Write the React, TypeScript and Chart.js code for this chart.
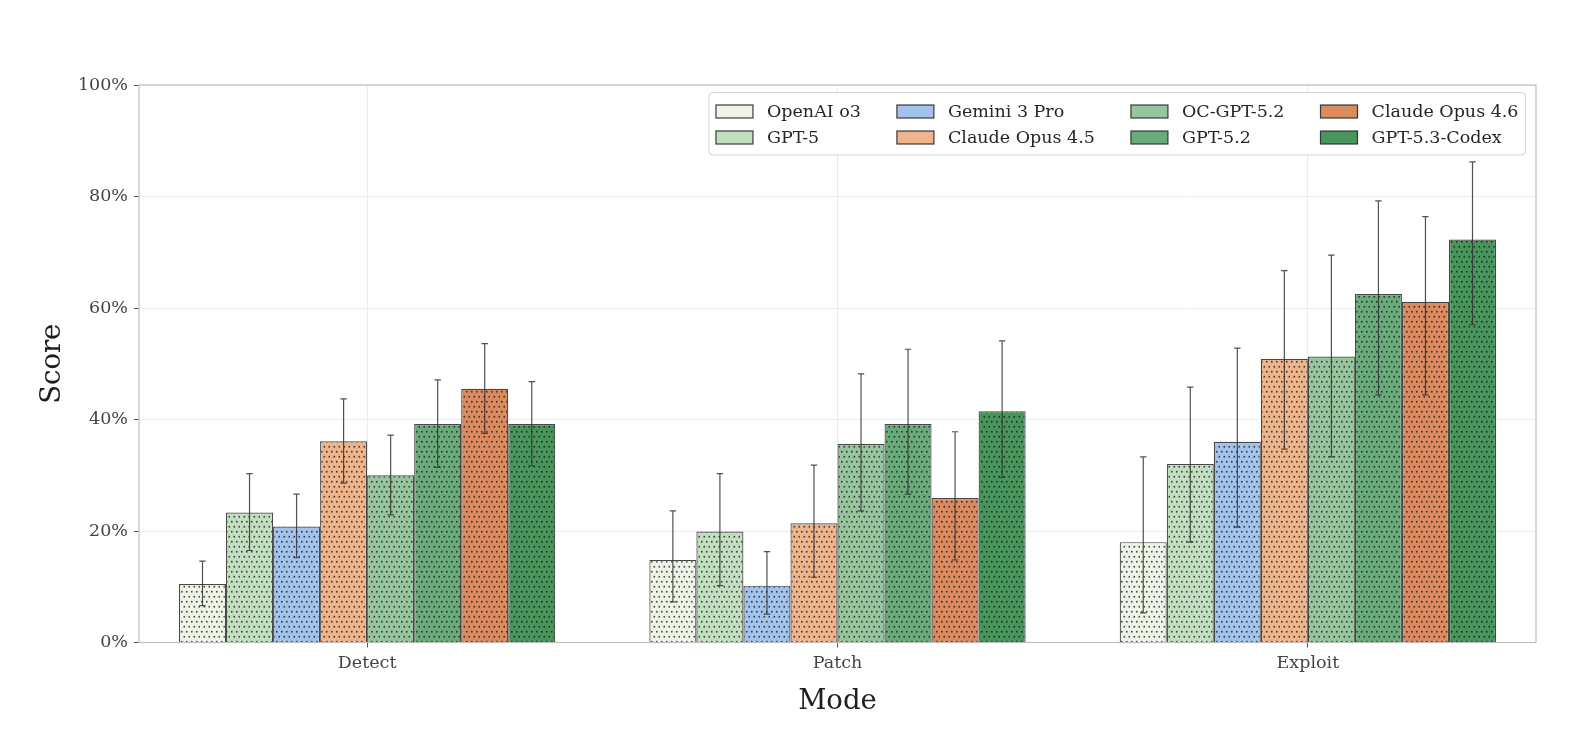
import React, { useEffect, useRef } from 'react';
import { Chart, registerables } from 'chart.js';

Chart.register(...registerables);

// ---------- data ----------
const categories = ['Detect', 'Patch', 'Exploit'];
const models = [
  'OpenAI o3',
  'GPT-5',
  'Gemini 3 Pro',
  'Claude Opus 4.5',
  'OC-GPT-5.2',
  'GPT-5.2',
  'Claude Opus 4.6',
  'GPT-5.3-Codex',
];
const colors = ['#eef5e6', '#c3dfc1', '#a2c3ec', '#eeb48c', '#97c69e', '#6aab7b', '#dc8a5f', '#48965c'];

// score (%) per mode: Detect, Patch, Exploit
const o3Score = [10.5, 14.8, 18.0];
const gpt5Score = [23.3, 19.9, 32.0];
const gemini3Score = [20.8, 10.2, 36.0];
const opus45Score = [36.1, 21.4, 50.9];
const ocGpt52Score = [30.0, 35.6, 51.3];
const gpt52Score = [39.2, 39.2, 62.5];
const opus46Score = [45.5, 25.9, 61.1];
const codexScore = [39.2, 41.5, 72.3];

// confidence interval lower bounds
const o3Low = [6.6, 7.3, 5.3];
const gpt5Low = [16.5, 10.2, 18.0];
const gemini3Low = [15.2, 5.1, 20.7];
const opus45Low = [28.6, 11.7, 34.7];
const ocGpt52Low = [22.9, 23.6, 33.3];
const gpt52Low = [31.4, 26.6, 44.4];
const opus46Low = [37.5, 14.8, 44.4];
const codexLow = [31.7, 29.6, 57.0];

// confidence interval upper bounds
const o3High = [14.6, 23.6, 33.3];
const gpt5High = [30.3, 30.3, 45.8];
const gemini3High = [26.6, 16.3, 52.8];
const opus45High = [43.7, 31.8, 66.7];
const ocGpt52High = [37.2, 48.2, 69.5];
const gpt52High = [47.1, 52.6, 79.2];
const opus46High = [53.6, 37.8, 76.4];
const codexHigh = [46.8, 54.1, 86.2];

const yTicks = [0, 20, 40, 60, 80, 100];

const scores = [o3Score, gpt5Score, gemini3Score, opus45Score, ocGpt52Score, gpt52Score, opus46Score, codexScore];
const lows = [o3Low, gpt5Low, gemini3Low, opus45Low, ocGpt52Low, gpt52Low, opus46Low, codexLow];
const highs = [o3High, gpt5High, gemini3High, opus45High, ocGpt52High, gpt52High, opus46High, codexHigh];

const FONT = '"DejaVu Serif", serif';

function makePattern(color: string): CanvasPattern | string {
  const c = document.createElement('canvas');
  c.width = 10;
  c.height = 10;
  const g = c.getContext('2d');
  if (!g) return color;
  g.fillStyle = color;
  g.fillRect(0, 0, 10, 10);
  g.fillStyle = 'rgba(20,20,20,0.72)';
  const pts = [
    [1, 1],
    [6, 1],
    [3.5, 6],
    [8.5, 6],
  ];
  pts.forEach(([x, y]) => {
    g.beginPath();
    g.arc(x + 0.8, y + 0.8, 0.95, 0, Math.PI * 2);
    g.fill();
  });
  return g.createPattern(c, 'repeat') || color;
}

const errorBarPlugin = {
  id: 'errorBars',
  afterDatasetsDraw(chart: any) {
    const { ctx, chartArea } = chart;
    const yScale = chart.scales.y;
    ctx.save();
    ctx.strokeStyle = 'rgba(50,50,50,0.85)';
    ctx.lineWidth = 1.2;
    chart.data.datasets.forEach((_ds: any, i: number) => {
      const meta = chart.getDatasetMeta(i);
      meta.data.forEach((el: any, j: number) => {
        const x = el.x;
        const yLo = yScale.getPixelForValue(lows[i][j]);
        const yHi = yScale.getPixelForValue(highs[i][j]);
        ctx.beginPath();
        ctx.moveTo(x, yLo);
        ctx.lineTo(x, yHi);
        ctx.moveTo(x - 3.2, yLo);
        ctx.lineTo(x + 3.2, yLo);
        ctx.moveTo(x - 3.2, yHi);
        ctx.lineTo(x + 3.2, yHi);
        ctx.stroke();
      });
    });
    // frame (spines)
    ctx.strokeStyle = '#bfbfbf';
    ctx.lineWidth = 1.2;
    ctx.strokeRect(chartArea.left, chartArea.top, chartArea.right - chartArea.left, chartArea.bottom - chartArea.top);
    ctx.restore();
  },
};

const legendPlugin = {
  id: 'gridLegend',
  afterDraw(chart: any) {
    const { ctx, chartArea } = chart;
    const fontSize = 17.5;
    const handle = 37;
    const handleH = 13;
    const textPad = 14;
    const colSpacing = 36;
    const borderPad = 7;
    const nRows = 2;
    const nCols = Math.ceil(models.length / nRows);
    ctx.save();
    ctx.font = `${fontSize}px ${FONT}`;
    const colW: number[] = [];
    for (let c = 0; c < nCols; c++) {
      let w = 0;
      for (let r = 0; r < nRows; r++) {
        const k = c * nRows + r;
        if (k < models.length) w = Math.max(w, ctx.measureText(models[k]).width);
      }
      colW.push(handle + textPad + w);
    }
    const boxW = borderPad * 2 + colW.reduce((a, b) => a + b, 0) + colSpacing * (nCols - 1);
    const boxH = 62.5;
    const right = chartArea.right - 10.5;
    const top = chartArea.top + 7.5;
    const left = right - boxW;
    // frame
    const rad = 4;
    ctx.beginPath();
    ctx.moveTo(left + rad, top);
    ctx.lineTo(left + boxW - rad, top);
    ctx.quadraticCurveTo(left + boxW, top, left + boxW, top + rad);
    ctx.lineTo(left + boxW, top + boxH - rad);
    ctx.quadraticCurveTo(left + boxW, top + boxH, left + boxW - rad, top + boxH);
    ctx.lineTo(left + rad, top + boxH);
    ctx.quadraticCurveTo(left, top + boxH, left, top + boxH - rad);
    ctx.lineTo(left, top + rad);
    ctx.quadraticCurveTo(left, top, left + rad, top);
    ctx.closePath();
    ctx.fillStyle = 'rgba(255,255,255,0.85)';
    ctx.fill();
    ctx.strokeStyle = '#d6d3ca';
    ctx.lineWidth = 1;
    ctx.stroke();

    ctx.textBaseline = 'middle';
    ctx.textAlign = 'left';
    let x = left + borderPad;
    for (let c = 0; c < nCols; c++) {
      for (let r = 0; r < nRows; r++) {
        const k = c * nRows + r;
        if (k >= models.length) continue;
        const cy = top + 19 + r * 26;
        ctx.fillStyle = colors[k];
        ctx.fillRect(x, cy - handleH / 2, handle, handleH);
        ctx.strokeStyle = 'rgba(40,40,40,0.9)';
        ctx.lineWidth = 1.2;
        ctx.strokeRect(x, cy - handleH / 2, handle, handleH);
        ctx.fillStyle = '#262626';
        ctx.fillText(models[k], x + handle + textPad, cy + 1);
      }
      x += colW[c] + colSpacing;
    }
    ctx.restore();
  },
};

export default function App() {
  const canvasRef = useRef<HTMLCanvasElement | null>(null);

  useEffect(() => {
    const canvas = canvasRef.current;
    if (!canvas) return;
    const datasets = models.map((m, i) => ({
      label: m,
      data: scores[i].map((v, j) => ({ x: j, y: v })),
      backgroundColor: makePattern(colors[i]),
      borderColor: 'rgba(40,40,40,0.85)',
      borderWidth: 1.2,
      categoryPercentage: 0.8,
      barPercentage: 1.0,
    }));

    const chart = new Chart(canvas, {
      type: 'bar',
      data: { datasets } as any,
      plugins: [errorBarPlugin, legendPlugin],
      options: {
        animation: false,
        responsive: false,
        devicePixelRatio: window.devicePixelRatio || 1,
        layout: { padding: { left: 0, top: 85, right: 44, bottom: 0 } },
        plugins: {
          legend: { display: false },
          tooltip: { enabled: false },
          title: { display: false },
        },
        scales: {
          x: {
            type: 'linear',
            min: -0.485,
            max: 2.485,
            offset: false,
            afterBuildTicks: (scale: any) => {
              scale.ticks = categories.map((_c, i) => ({ value: i }));
            },
            afterFit: (scale: any) => {
              scale.height = 99.5;
            },
            ticks: {
              autoSkip: false,
              maxRotation: 0,
              padding: 5,
              color: '#444444',
              font: { family: FONT, size: 17.5 },
              callback: (v: any) => categories[Math.round(Number(v))] ?? '',
            },
            grid: {
              offset: false,
              color: '#ececec',
              lineWidth: 1,
              tickColor: '#555555',
              tickLength: 5,
              drawTicks: true,
            },
            border: { display: false },
            title: {
              display: true,
              text: 'Mode',
              color: '#1e1e1e',
              font: { family: FONT, size: 27.5 },
              padding: { top: 0, bottom: 24 },
            },
          },
          y: {
            type: 'linear',
            min: 0,
            max: 100,
            afterBuildTicks: (scale: any) => {
              scale.ticks = yTicks.map((v) => ({ value: v }));
            },
            afterFit: (scale: any) => {
              scale.width = 139;
            },
            ticks: {
              padding: 6,
              color: '#444444',
              font: { family: FONT, size: 17.5 },
              callback: (v: any) => `${v}%`,
            },
            grid: {
              color: '#ececec',
              lineWidth: 1,
              tickColor: '#555555',
              tickLength: 5,
              drawTicks: true,
            },
            border: { display: false },
            title: {
              display: true,
              text: 'Score',
              color: '#1e1e1e',
              font: { family: FONT, size: 27.5 },
              padding: { top: 36, bottom: 0 },
            },
          },
        },
      } as any,
    });
    return () => chart.destroy();
  }, []);

  return (
    <div style={{ position: 'fixed', left: 0, top: 0, width: 1580, height: 742, background: '#ffffff' }}>
      <canvas ref={canvasRef} width={1580} height={742} style={{ width: 1580, height: 742, display: 'block' }} />
    </div>
  );
}
